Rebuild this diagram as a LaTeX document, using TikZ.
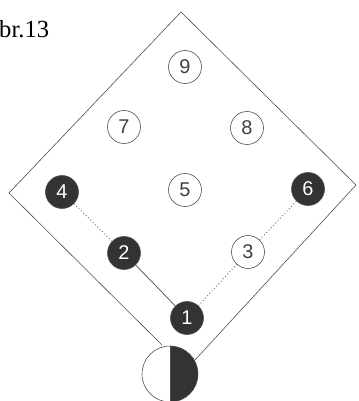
\documentclass[tikz,border=0pt]{standalone}
\usepackage{fontspec}
\setmainfont{Liberation Serif}
\newfontfamily\digitfont{Liberation Sans}
\usetikzlibrary{positioning}

\begin{document}
\begin{tikzpicture}[x=0.03cm,y=-0.03cm,
    field/.style={draw=black!70,line width=0.5pt},
    player/.style={circle,draw=black!70,line width=0.5pt,minimum size=0.99cm,inner sep=0pt,font=\digitfont\fontsize{17}{17}\selectfont,text=black!75},
    busy/.style={player,fill=black!80,text=white},
    dotline/.style={dotted,black!55,line width=0.8pt},
    solidline/.style={black!70,line width=0.6pt}]
    \useasboundingbox (0,0) rectangle (358,401);
    % field outline
    \coordinate (lend) at (162,345);
    \coordinate (left) at (9,193);
    \coordinate (top) at (181,12);
    \coordinate (right) at (356,185);
    \coordinate (rend) at (195,360);
    \draw[field] (lend) -- (left) -- (top) -- (right) -- (rend);
    % home plate ball
    \fill[black!80] (170,374) ++(90:28) arc (90:-90:28) -- cycle;
    \draw[field] (170,374) circle (28);
    \draw[field] (170,346) -- (170,402);
    % positions
    \node[player] (n9) at (185,67) {9};
    \node[player] (n7) at (124,127) {7};
    \node[player] (n8) at (247,128) {8};
    \node[player] (n5) at (185,190) {5};
    \node[busy] (n4) at (62,192) {4};
    \node[busy] (n6) at (308,189) {6};
    \node[busy] (n2) at (124,253) {2};
    \node[player] (n3) at (248,252) {3};
    \node[busy] (n1) at (187,318) {1};
    \draw[dotline] (n4) -- (n2);
    \draw[solidline] (n2) -- (n1);
    \draw[dotline] (n1) -- (n3);
    \draw[dotline] (n3) -- (n6);
    \node[anchor=base west,inner sep=0pt,font=\fontsize{21}{21}\selectfont] (title) at (-1,38) {br.13};
\end{tikzpicture}
\end{document}
